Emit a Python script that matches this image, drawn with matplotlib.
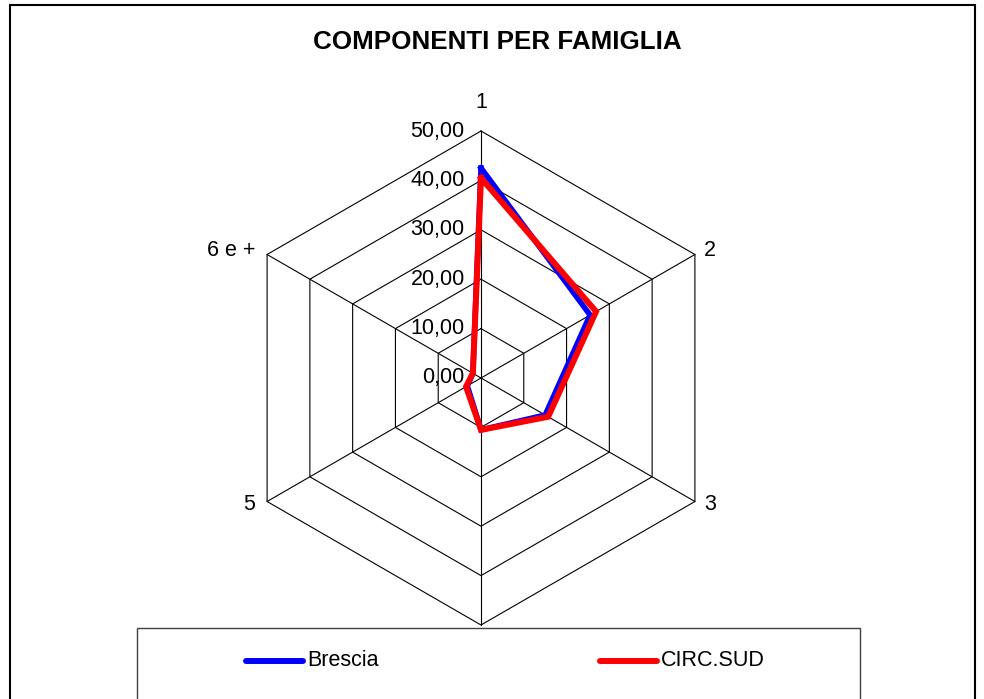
import numpy as np
import matplotlib
matplotlib.use("Agg")
import matplotlib.pyplot as plt
from matplotlib.patches import Rectangle
from matplotlib.lines import Line2D

plt.rcParams['font.family'] = ['Liberation Sans', 'DejaVu Sans']

# componenti per famiglia (%)
categorie = ["1", "2", "3", "4", "5", "6 e +"]
brescia = [42.5, 25.5, 15.0, 10.5, 3.2, 1.9]
circ_sud = [40.5, 26.9, 15.7, 10.5, 3.5, 1.9]
livelli = [0, 10, 20, 30, 40, 50]
etichette_livelli = ["0,00", "10,00", "20,00", "30,00", "40,00", "50,00"]

W, H = 984, 699
fig = plt.figure(figsize=(W / 100, H / 100), dpi=100)

# axes sized so that 50 units = 247 px, centred on the chart
cx, cy, R = 481, 378, 247
lim = 55
side = 2 * lim / 50 * R
ax = fig.add_axes([(cx - side / 2) / W, (H - cy - side / 2) / H, side / W, side / H])
ax.set_xlim(-lim, lim)
ax.set_ylim(-lim, lim)
ax.set_aspect('equal')
ax.axis('off')

n = len(categorie)
ang = np.pi / 2 - np.arange(n) * 2 * np.pi / n


def xy(vals):
    v = np.asarray(vals, dtype=float)
    v = np.append(v, v[0])
    a = np.append(ang, ang[0])
    return v * np.cos(a), v * np.sin(a)


# hexagonal grid and spokes
for lv in livelli[1:]:
    gx, gy = xy([lv] * n)
    ax.plot(gx, gy, color='black', lw=0.8, zorder=1)
for a in ang:
    ax.plot([0, 50 * np.cos(a)], [0, 50 * np.sin(a)], color='black', lw=0.8, zorder=1)

# scale labels along the first axis
for lv, lab in zip(livelli, etichette_livelli):
    ax.text(-3.3, lv, lab, ha='right', va='center', fontsize=15.5)

# category labels
for a, lab in zip(ang, categorie):
    x, y = 50 * np.cos(a), 50 * np.sin(a)
    if abs(np.cos(a)) < 1e-6:
        yy = y + 5.7 if y > 0 else y - 5.7
        ax.text(x, yy, lab, ha='center', va='center', fontsize=15.5)
    elif x > 0:
        ax.text(x + 1.8, y + (0.8 if y > 0 else -0.6), lab, ha='left', va='center', fontsize=15.5)
    else:
        ax.text(x - 2.4, y + (0.8 if y > 0 else -0.6), lab, ha='right', va='center', fontsize=15.5)

bx, by = xy(brescia)
ax.plot(bx, by, color='#0000ff', lw=4.0, solid_joinstyle='miter', zorder=3)
sx, sy = xy(circ_sud)
ax.plot(sx, sy, color='#ff0000', lw=4.3, solid_joinstyle='miter', zorder=4)

# outer frame
fig.patches.append(Rectangle((10 / W, -0.02), 965 / W, (H - 5) / H + 0.02,
                             transform=fig.transFigure, fill=False,
                             edgecolor='black', lw=1.5, zorder=5))

# legend box
fig.patches.append(Rectangle((137 / W, -0.02), 723 / W, (H - 628) / H + 0.02,
                             transform=fig.transFigure, facecolor='white',
                             edgecolor='#404040', lw=1.0, zorder=5))

ly = (H - 661) / H
for (x0, x1), col, lab in [((246, 303), '#0000ff', 'Brescia'),
                            ((600, 657), '#ff0000', 'CIRC.SUD')]:
    fig.lines.append(Line2D([x0 / W, x1 / W], [ly, ly], transform=fig.transFigure,
                            color=col, lw=4.3, solid_capstyle='round', zorder=6))
    fig.text((x1 + 4) / W, ly, lab, ha='left', va='center', fontsize=15.5, zorder=6)

fig.text(497 / W, (H - 42) / H, "COMPONENTI PER FAMIGLIA", ha='center', va='center',
         fontsize=18.7, fontweight='bold')

fig.savefig("out.png", dpi=100, facecolor='white')
